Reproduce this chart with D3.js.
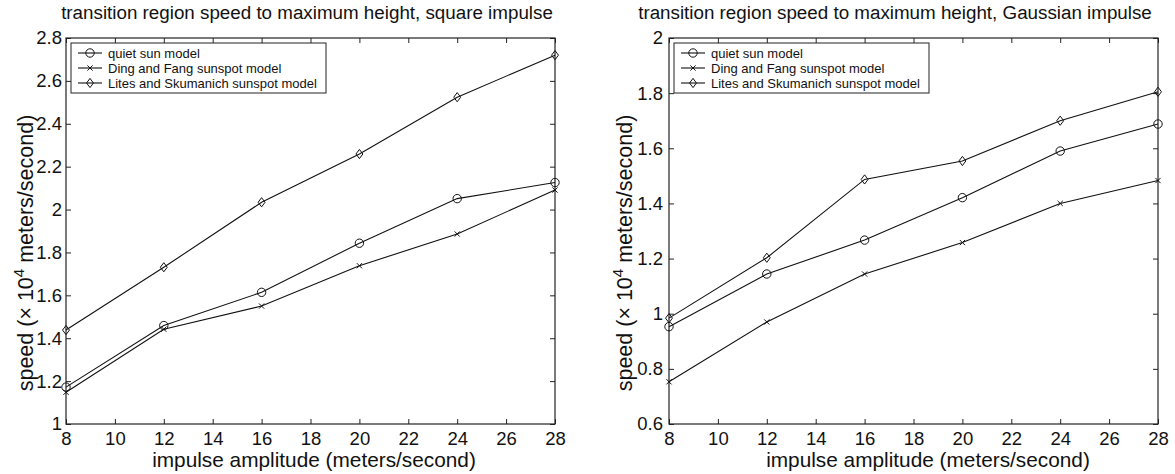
<!DOCTYPE html>
<html lang="en">
<head>
<meta charset="UTF-8">
<title>transition region speed to maximum height</title>
<style>
    body { margin: 0; background: #fff; }
    svg { font-family: "Liberation Sans", Arial, sans-serif; }
    .frame { fill: none; stroke: #222; stroke-width: 1.2px; }
    .tick line { stroke: #222; }
    .series { fill: none; stroke: #111; stroke-width: 1.1px; }
    .marker { fill: none; stroke: #111; stroke-width: 1px; }
</style>
</head>
<body>
<svg id="chart" width="1175" height="474"></svg>
<script src="https://d3js.org/d3.v7.min.js"></script>
<script>
// amplitudes (m/s)
const amplitudes = [8, 12, 16, 20, 24, 28];
const xTicks = [8, 10, 12, 14, 16, 18, 20, 22, 24, 26, 28];

const seriesNames = ["quiet sun model", "Ding and Fang sunspot model", "Lites and Skumanich sunspot model"];
const seriesMarkers = ["circle", "x", "diamond"];

// square impulse (x 10^4 m/s)
const squareQuiet = [1.172, 1.459, 1.614, 1.843, 2.051, 2.126];
const squareDing = [1.148, 1.442, 1.550, 1.738, 1.886, 2.091];
const squareLites = [1.438, 1.731, 2.034, 2.259, 2.524, 2.720];
const squareTicks = [1, 1.2, 1.4, 1.6, 1.8, 2, 2.2, 2.4, 2.6, 2.8];

// gaussian impulse (x 10^4 m/s)
const gaussQuiet = [0.953, 1.144, 1.267, 1.421, 1.590, 1.688];
const gaussDing = [0.753, 0.970, 1.144, 1.258, 1.400, 1.483];
const gaussLites = [0.984, 1.203, 1.487, 1.554, 1.700, 1.805];
const gaussTicks = [0.6, 0.8, 1, 1.2, 1.4, 1.6, 1.8, 2];

const svg = d3.select("#chart");

function marker(g, type, cx, cy) {
    if (type === "circle") {
        g.append("circle").attr("class", "marker").attr("cx", cx).attr("cy", cy).attr("r", 4.2);
    } else if (type === "x") {
        const s = 2.6;
        g.append("path").attr("class", "marker")
            .attr("d", `M${cx - s},${cy - s}L${cx + s},${cy + s}M${cx - s},${cy + s}L${cx + s},${cy - s}`);
    } else {
        const s = 4.6;
        g.append("path").attr("class", "marker")
            .attr("d", `M${cx},${cy - s}L${cx + s * 0.75},${cy}L${cx},${cy + s}L${cx - s * 0.75},${cy}Z`);
    }
}

function drawPanel(opt) {
    const x = d3.scaleLinear().domain([8, 28]).range([opt.left, opt.right]);
    const y = d3.scaleLinear().domain(opt.yDomain).range([424, 38]);
    const g = svg.append("g");

    // inward ticks on all four sides
    const tickLen = 5;
    g.append("g").attr("transform", "translate(0,424)")
        .call(d3.axisBottom(x).tickValues(xTicks).tickSize(-tickLen).tickPadding(8).tickFormat(d3.format("d")))
        .call(a => a.select(".domain").remove())
        .call(a => a.selectAll("text").attr("font-size", 18.5).attr("fill", "#111").attr("font-family", null));
    g.append("g").attr("transform", "translate(0,38)")
        .call(d3.axisTop(x).tickValues(xTicks).tickSize(-tickLen).tickFormat(""))
        .call(a => a.select(".domain").remove());
    g.append("g").attr("transform", `translate(${opt.left},0)`)
        .call(d3.axisLeft(y).tickValues(opt.yTicks).tickSize(-tickLen).tickPadding(opt.yPad).tickFormat(d3.format("~g")))
        .call(a => a.select(".domain").remove())
        .call(a => a.selectAll("text").attr("font-size", 18.5).attr("fill", "#111").attr("font-family", null));
    g.append("g").attr("transform", `translate(${opt.right},0)`)
        .call(d3.axisRight(y).tickValues(opt.yTicks).tickSize(-tickLen).tickFormat(""))
        .call(a => a.select(".domain").remove());

    g.append("rect").attr("class", "frame")
        .attr("x", opt.left).attr("y", 38)
        .attr("width", opt.right - opt.left).attr("height", 386);

    const line = d3.line().x((d, i) => x(amplitudes[i])).y(d => y(d));
    opt.series.forEach((vals, k) => {
        g.append("path").datum(vals).attr("class", "series").attr("d", line);
        vals.forEach((v, i) => marker(g, seriesMarkers[k], x(amplitudes[i]), y(v)));
    });

    // legend
    const lx = opt.left + 5, ly = 43;
    g.append("rect").attr("x", lx).attr("y", ly).attr("width", 255).attr("height", 50)
        .attr("fill", "#fff").attr("stroke", "#222").attr("stroke-width", 1);
    seriesNames.forEach((name, k) => {
        const yy = ly + 10 + k * 15;
        g.append("line").attr("class", "series").attr("x1", lx + 7).attr("x2", lx + 31).attr("y1", yy).attr("y2", yy);
        marker(g, seriesMarkers[k], lx + 19, yy);
        g.append("text").attr("x", lx + 37).attr("y", yy + 4.5).attr("font-size", 13).attr("fill", "#111").text(name);
    });

    // titles and labels
    g.append("text").attr("x", opt.titleX).attr("y", 19).attr("text-anchor", "middle")
        .attr("font-size", 18.8).attr("fill", "#111").text(opt.title);
    g.append("text").attr("x", opt.xLabelX).attr("y", 467).attr("text-anchor", "middle")
        .attr("font-size", 20.8).attr("fill", "#111").text("impulse amplitude (meters/second)");
    const yl = g.append("text").attr("transform", `translate(${opt.yLabelX},${(38 + 424) / 2 + 22}) rotate(-90)`)
        .attr("text-anchor", "middle").attr("font-size", 21.5).attr("fill", "#111");
    yl.append("tspan").text("speed (\u00d7 10");
    yl.append("tspan").attr("dy", -9).attr("font-size", 15).text("4");
    yl.append("tspan").attr("dy", 9).text(" meters/second)");
}

drawPanel({
    left: 66, right: 555, yDomain: [1, 2.8], yTicks: squareTicks, yPad: 4,
    series: [squareQuiet, squareDing, squareLites],
    title: "transition region speed to maximum height, square impulse",
    titleX: 307, xLabelX: 314, yLabelX: 33
});
drawPanel({
    left: 669, right: 1158, yDomain: [0.6, 2], yTicks: gaussTicks, yPad: 6,
    series: [gaussQuiet, gaussDing, gaussLites],
    title: "transition region speed to maximum height, Gaussian impulse",
    titleX: 895, xLabelX: 928, yLabelX: 632
});
</script>
</body>
</html>
